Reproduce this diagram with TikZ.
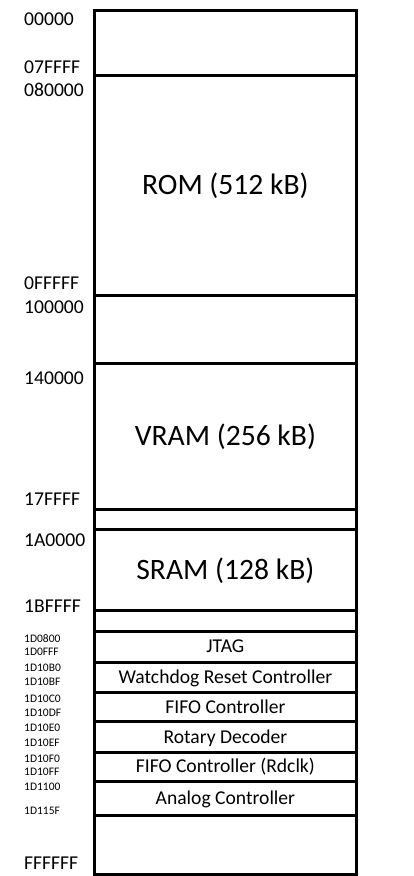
\documentclass[tikz,border=0pt]{standalone}
\usepackage{fontspec}
\setmainfont{Carlito}
\begin{document}
\begin{tikzpicture}[x=1pt,y=-1pt,
  region/.style={draw=black, line width=3pt, minimum width=261.8pt, inner sep=0pt, text height=12.6pt, text depth=0pt},
  big/.style={font=\fontsize{29.6}{30}\selectfont, text height=19.1pt},
  comp/.style={font=\fontsize{19.6}{20}\selectfont, text height=12.6pt},
  addr/.style={anchor=base west, inner sep=0pt, font=\fontsize{19.6}{20}\selectfont},
  saddr/.style={anchor=base west, inner sep=0pt, font=\fontsize{11.5}{12}\selectfont}]
\useasboundingbox (0,0) rectangle (413,876);
\newcommand{\memreg}[5]{%
  \node[region,#5,minimum height={#3-#2}] (#1) at (225.4,{(#2+#3)/2}) {#4};}
\memreg{r0}{10}{75}{}{}
\memreg{rom}{75}{295}{ROM (512 kB)}{big}
\memreg{r1}{295}{363}{}{}
\memreg{vram}{363}{509}{VRAM (256 kB)}{big}
\memreg{r2}{509}{529.5}{}{}
\memreg{sram}{529.5}{610}{SRAM (128 kB)}{big}
\memreg{r3}{610}{631}{}{}
\memreg{jtag}{631}{662}{JTAG}{comp}
\memreg{wdog}{662}{692}{Watchdog Reset Controller}{comp}
\memreg{fifo}{692}{721.5}{FIFO Controller}{comp}
\memreg{rot}{721.5}{752}{Rotary Decoder}{comp}
\memreg{fifor}{752}{781}{FIFO Controller (Rdclk)}{comp}
\memreg{ana}{781}{815}{Analog Controller}{comp}
\memreg{r4}{815}{874}{}{}
% address labels
\node[addr] (a00000) at (24,25.3) {00000};
\node[addr] (a07ffff) at (24,73) {07FFFF};
\node[addr] (a080000) at (24,96.5) {080000};
\node[addr] (a0fffff) at (24,289) {0FFFFF};
\node[addr] (a100000) at (24,313) {100000};
\node[addr] (a140000) at (24,384) {140000};
\node[addr] (a17ffff) at (24,505) {17FFFF};
\node[addr] (a1a0000) at (24,546) {1A0000};
\node[addr] (a1bffff) at (24,612) {1BFFFF};
\node[addr] (affffff) at (24,869) {FFFFFF};
\node[saddr] (b1) at (24,642.7) {1D0800};
\node[saddr] (b2) at (24,655.7) {1D0FFF};
\node[saddr] (b3) at (24,671.7) {1D10B0};
\node[saddr] (b4) at (24,685.7) {1D10BF};
\node[saddr] (b5) at (24,702.7) {1D10C0};
\node[saddr] (b6) at (24,716.7) {1D10DF};
\node[saddr] (b7) at (24,731.7) {1D10E0};
\node[saddr] (b8) at (24,746.7) {1D10EF};
\node[saddr] (b9) at (24,762.7) {1D10F0};
\node[saddr] (b10) at (24,775.7) {1D10FF};
\node[saddr] (b11) at (24,790.7) {1D1100};
\node[saddr] (b12) at (24,814.7) {1D115F};
\end{tikzpicture}
\end{document}
